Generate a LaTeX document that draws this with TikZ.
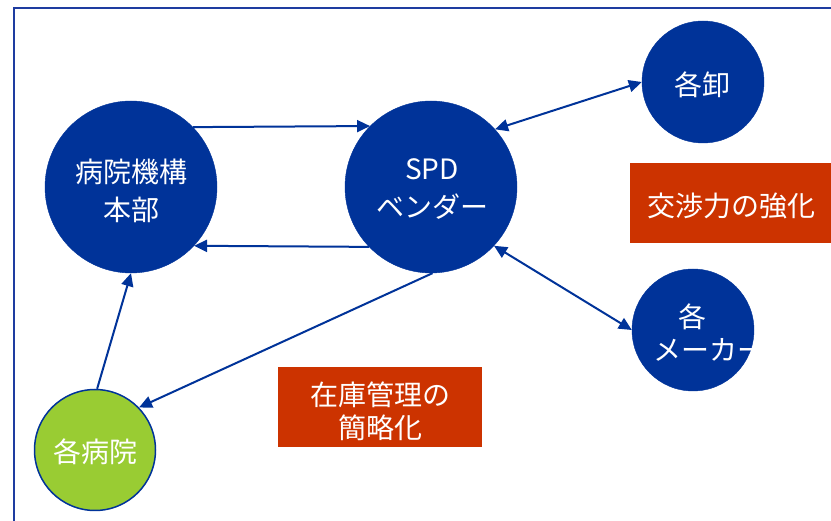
\documentclass[tikz,border=0pt]{standalone}
\usepackage{fontspec}
\setmainfont{Noto Sans CJK JP}
\usetikzlibrary{arrows.meta}
\definecolor{dblue}{RGB}{0,51,153}
\definecolor{framec}{RGB}{30,60,160}
\definecolor{dred}{RGB}{204,51,0}
\definecolor{lgreen}{RGB}{153,204,51}
\tikzset{
  circ/.style={circle, fill=dblue, draw=dblue, inner sep=0pt, minimum size=#1},
  txt/.style={text=white, align=center, font=\fontsize{28}{38}\selectfont, inner sep=0pt},
  redbox/.style={fill=dred, draw=none},
  arr/.style={draw=dblue, line width=2pt, -{Triangle[length=13pt,width=12pt]}},
  darr/.style={draw=dblue, line width=2pt, {Triangle[length=13pt,width=12pt]}-{Triangle[length=13pt,width=12pt]}},
}
\begin{document}
\begin{tikzpicture}[x=1pt,y=-1pt]
\useasboundingbox (0,0) rectangle (831,521);
\fill[white] (0,0) rectangle (831,521);
% frame
\coordinate (fbl) at (14,525);
\coordinate (ftl) at (14,8);
\coordinate (ftr) at (835,8);
\draw[framec, line width=2pt] (fbl) -- (ftl) -- (ftr);
% red boxes
\fill[redbox] (630,163) rectangle (832,243);
\node[txt] (neg) at (731,206) {交渉力の強化};
\fill[redbox] (278,367) rectangle (482,447);
\node[txt, font=\fontsize{28}{33}\selectfont] (inv) at (380,411) {在庫管理の\\簡略化};
% circles
\node[circ=172pt] (hb) at (131,187) {};
\node[txt] (hbt) at (131,191) {病院機構\\本部};
\node[circ=172pt] (spd) at (431,187) {};
\node[txt] (spdt) at (432,189) {SPD\\ベンダー};
\node[circ=122pt] (wh) at (703,82) {};
\node[txt] (wht) at (702,85) {各卸};
\node[circ=122pt] (mk) at (693,330) {};
\node[txt] (mkt1) at (692,317) {各};
\node[txt] (mkt2) at (709,350) {メーカー};
\node[circle, fill=lgreen, draw=dblue, line width=1.5pt, inner sep=0pt, minimum size=121pt] (hos) at (95,450) {};
\node[txt] (host) at (95,452) {各病院};
% connectors
\draw[arr] (hb.44.2) -- (spd.135.8);
\draw[arr] (spd.-136.7) -- (hb.-43.3);
\draw[darr] (spd.42.7) -- (wh.180);
\draw[darr] (spd.-43) -- (mk.180);
\draw[arr] (spd.-89) -- (hos.44);
\draw[arr] (hos.88) -- (hb.-90);
\end{tikzpicture}
\end{document}
